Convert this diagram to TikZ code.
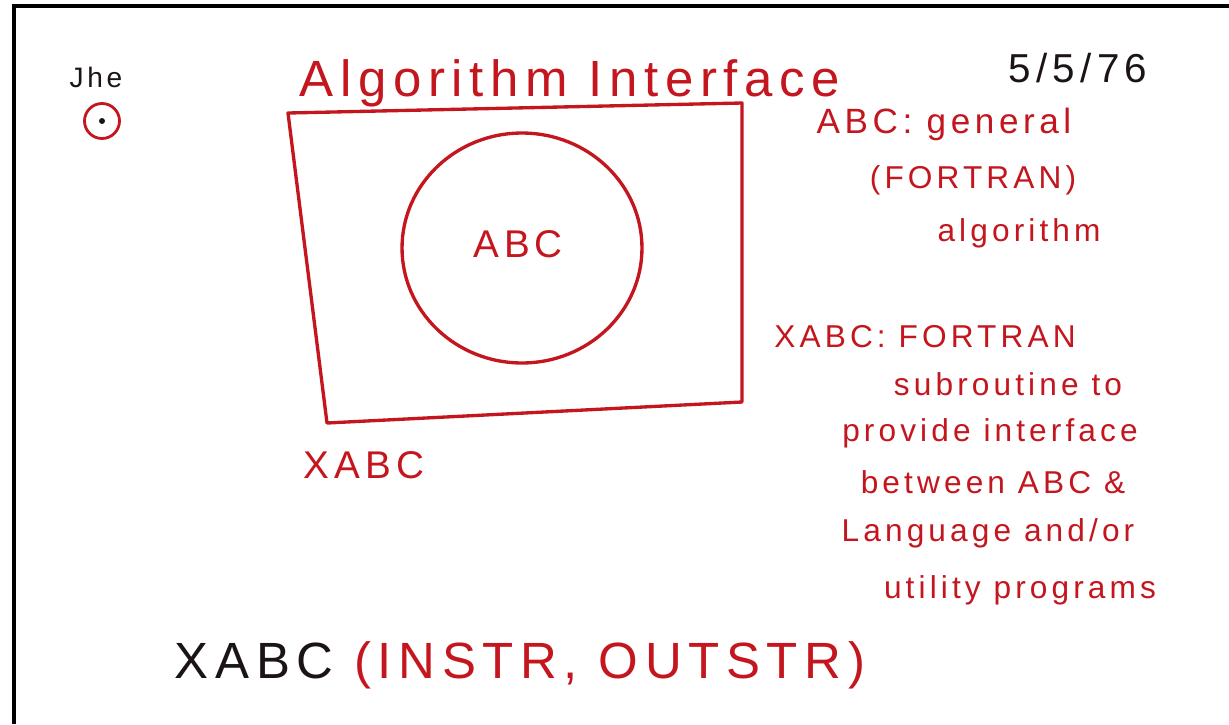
\documentclass[tikz,border=0pt]{standalone}
\usepackage{fontspec}
\setmainfont{Liberation Sans}[LetterSpace=13]
\usepackage{xcolor}
\usepackage{tikz}
\usetikzlibrary{shapes.geometric, positioning}

\definecolor{redink}{RGB}{196,22,30}
\definecolor{blackink}{RGB}{28,20,20}

\begin{document}
\begin{tikzpicture}[
    x=0.02cm, y=-0.02cm,
    pen/.style={draw=redink, line width=1.9pt, line join=round},
    hand/.style={text=redink, inner sep=0pt, font=\fontsize{18}{20}\selectfont},
    bighand/.style={hand, font=\fontsize{29}{32}\selectfont},
    circ/.style={pen, ellipse, minimum width=4.8cm, minimum height=4.6cm, inner sep=0pt}
]
    \useasboundingbox (0,0) rectangle (1229,724);

    % ================= SHEET EDGE =================
    \coordinate (e1) at (14,724);
    \coordinate (e2) at (14,6);
    \coordinate (e3) at (1229,6);
    \draw[black, line width=1.8pt] (e1) -- (e2) -- (e3);

    % ================= HEADER =================
    \node[hand, text=blackink, font=\fontsize{16}{18}\selectfont] (init) at (96,77) {Jhe};
    \node[draw=redink, line width=1.6pt, circle, minimum size=0.7cm, inner sep=0pt] (pg) at (102,121) {};
    \fill[blackink] (pg.center) circle (3);
    \node[bighand] (title) at (570,83) {Algorithm Interface};
    \node[hand, text=blackink, font=\fontsize{23}{26}\selectfont] (date) at (1078,68) {5/5/76};

    % ================= BOX AND CIRCLE =================
    \coordinate (b1) at (288,113);
    \coordinate (b2) at (742,103);
    \coordinate (b3) at (742,402);
    \coordinate (b4) at (327,423);
    \draw[pen] (b1) -- (b2) -- (b3) -- (b4) -- cycle;

    \node[circ] (abc) at (522,248) {};
    \node[hand, font=\fontsize{22}{24}\selectfont] (abclbl) at (518,244) {ABC};
    \node[hand, font=\fontsize{22}{24}\selectfont] (xabc) at (364,465) {XABC};

    % ================= NOTES =================
    % ABC
    \node[hand, font=\fontsize{20}{22}\selectfont] (n1) at (944,124) {ABC: general};
    \node[hand] (n2) at (973,180) {(FORTRAN)};
    \node[hand] (n3) at (1019,233) {algorithm};

    % XABC
    \node[hand] (m1) at (925,337) {XABC: FORTRAN};
    \node[hand] (m2) at (1008,384) {subroutine to};
    \node[hand] (m3) at (990,433) {provide interface};
    \node[hand] (m4) at (993,482) {between ABC \&};
    \node[hand] (m5) at (988,533) {Language and/or};
    \node[hand] (m6) at (1020,590) {utility programs};

    % ================= CALL =================
    \node[bighand] (call) at (520,665) {\textcolor{blackink}{XABC} (INSTR, OUTSTR)};

\end{tikzpicture}
\end{document}
